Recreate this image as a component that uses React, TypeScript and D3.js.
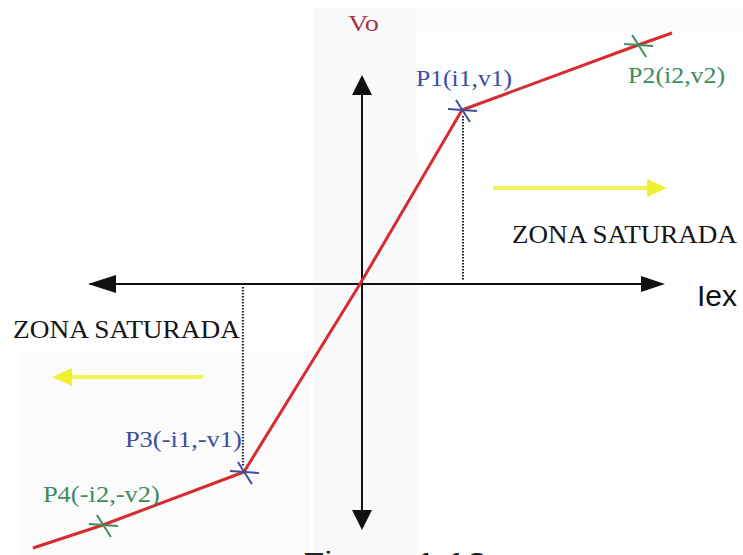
import React from "react";
import * as d3 from "d3";

// Transfer characteristic Vo vs Iex (normalised units)
const curveI = [-1.09, -0.857, -0.387, 0, 0.34, 0.927, 1.04];
const curveV = [-1.056, -0.964, -0.752, 0, 0.696, 0.956, 1.004];

// Marked points
const pointNames = ["P1(i1,v1)", "P2(i2,v2)", "P3(-i1,-v1)", "P4(-i2,-v2)"];
const pointI = [0.34, 0.927, -0.387, -0.857];
const pointV = [0.696, 0.956, -0.752, -0.964];
const pointColors = ["#3c4d9e", "#3f8c5e", "#3c4d9e", "#3f8c5e"];

const xLabel = "Iex";
const yLabel = "Vo";
const zoneLabel = "ZONA SATURADA";
const caption = "Figura 1.12";

const W = 743;
const H = 555;

export default function App() {
  const x = d3.scaleLinear().domain([-1, 1]).range([60, 660]);
  const y = d3.scaleLinear().domain([-1, 1]).range([534, 34]);
  const x0 = x(0);
  const y0 = y(0);

  const line = d3
    .line<number>()
    .x((_, i) => x(curveI[i]))
    .y((d) => y(d));

  const serif = "'Liberation Serif', 'Times New Roman', serif";
  const sans = "'Liberation Sans', Arial, sans-serif";

  // label placement (offsets from point, in px)
  const labelPos = [
    { dx: -46, dy: -24, len: 96 },
    { dx: -10, dy: 38, len: 97 },
    { dx: -119, dy: -25, len: 117 },
    { dx: -60, dy: -23, len: 117 },
  ];

  const axisColor = "#111";
  const arrowHead = (tx: number, ty: number, dir: "up" | "down" | "left" | "right", size = 20, half = 10) => {
    let pts: [number, number][] = [];
    if (dir === "up") pts = [[tx, ty], [tx - half, ty + size], [tx + half, ty + size]];
    if (dir === "down") pts = [[tx, ty], [tx - half, ty - size], [tx + half, ty - size]];
    if (dir === "left") pts = [[tx, ty], [tx + size, ty - half], [tx + size, ty + half]];
    if (dir === "right") pts = [[tx, ty], [tx - size, ty - half], [tx - size, ty + half]];
    return pts.map((p) => p.join(",")).join(" ");
  };

  return (
    <svg
      width={W}
      height={H}
      viewBox={`0 0 ${W} ${H}`}
      style={{ position: "absolute", left: 0, top: 0, background: "#fff" }}
    >
      {/* faint scan panels */}
      <rect x={313} y={8} width={104} height={547} fill="#f8f9f9" />
      <rect x={417} y={8} width={326} height={24} fill="#fbfbfb" />
      <rect x={20} y={352} width={290} height={203} fill="#fbfbfb" />
      <rect x={417} y={32} width={326} height={118} fill="#fcfdfd" />

      {/* axes */}
      <line x1={x(-0.9)} y1={y0} x2={x(1.0)} y2={y0} stroke={axisColor} strokeWidth={2.2} />
      <polygon points={arrowHead(88, y0, "left", 28, 9)} fill={axisColor} />
      <polygon points={arrowHead(665, y0, "right", 24, 8)} fill={axisColor} />
      <line x1={x0 + 2} y1={y(0.8)} x2={x0 + 2} y2={y(-0.96)} stroke={axisColor} strokeWidth={2} />
      <polygon points={arrowHead(x0 + 2, 75, "up", 20, 10)} fill={axisColor} />
      <polygon points={arrowHead(x0 + 2, 530, "down", 20, 10)} fill={axisColor} />

      {/* dotted projections */}
      <line x1={x(pointI[0]) + 1} y1={y(pointV[0]) + 6} x2={x(pointI[0]) + 1} y2={y0 - 3}
        stroke="#222" strokeWidth={2} strokeDasharray="1.6,1.4" />
      <line x1={x(pointI[2]) - 1} y1={y0 + 3} x2={x(pointI[2]) - 1} y2={y(pointV[2]) - 6}
        stroke="#222" strokeWidth={2} strokeDasharray="1.6,1.4" />

      {/* yellow zone arrows */}
      <line x1={493} y1={188} x2={648} y2={188} stroke="#f2f45a" strokeWidth={4} />
      <polygon points={arrowHead(667, 188, "right", 20, 9)} fill="#eef030" />
      <line x1={203} y1={377} x2={70} y2={377} stroke="#f2f45a" strokeWidth={4} />
      <polygon points={arrowHead(52, 377, "left", 20, 9)} fill="#eef030" />

      {/* transfer curve */}
      <path d={line(curveV) || ""} fill="none" stroke="#d62b2f" strokeWidth={3} strokeLinejoin="round" />

      {/* point markers */}
      {pointI.map((pi, i) => {
        const cx = x(pi);
        const cy = y(pointV[i]);
        const c = pointColors[i];
        return (
          <g key={"m" + i} stroke={c} strokeWidth={2}>
            <line x1={cx - 14} y1={cy - 1} x2={cx + 15} y2={cy + 1} />
            <line x1={cx - 6} y1={cy - 10} x2={cx + 8} y2={cy + 12} />
          </g>
        );
      })}

      {/* point labels */}
      {pointNames.map((n, i) => (
        <text
          key={"l" + i}
          x={x(pointI[i]) + labelPos[i].dx}
          y={y(pointV[i]) + labelPos[i].dy}
          fontFamily={serif}
          fontSize={24}
          fill={pointColors[i]}
          textLength={labelPos[i].len}
          lengthAdjust="spacingAndGlyphs"
        >
          {n}
        </text>
      ))}

      {/* axis labels */}
      <text x={348} y={31} fontFamily={serif} fontSize={24} fill="#a8344a"
        textLength={31} lengthAdjust="spacingAndGlyphs">
        {yLabel}
      </text>
      <text x={697} y={306} fontFamily={sans} fontSize={30} fill="#111">
        {xLabel}
      </text>

      {/* zone labels */}
      <text x={512} y={243} fontFamily={serif} fontSize={26} fill="#151515"
        textLength={225} lengthAdjust="spacingAndGlyphs">
        {zoneLabel}
      </text>
      <text x={13} y={338} fontFamily={serif} fontSize={26} fill="#151515"
        textLength={227} lengthAdjust="spacingAndGlyphs">
        {zoneLabel}
      </text>

      {/* caption (cut off at the bottom edge, as in the reference) */}
      <text x={302} y={573} fontFamily={sans} fontSize={30} fill="#222"
        textLength={185} lengthAdjust="spacingAndGlyphs">
        {caption}
      </text>
    </svg>
  );
}
